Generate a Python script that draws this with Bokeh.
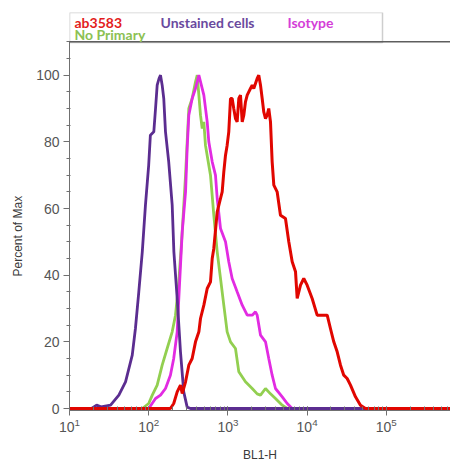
from bokeh.plotting import figure
from bokeh.models import FixedTicker, Label, BoxAnnotation, Span, Range1d, Title
from bokeh.embed import file_html
from bokeh.resources import INLINE

# ---- data (BL1-H intensity, percent of max) ----
unstained_x = [10, 19, 22, 25, 33, 42, 51, 62, 68, 75, 83, 91, 100, 105, 116, 122, 128, 135, 141, 148, 155, 163, 179, 198, 208, 229, 252, 277, 306, 337, 650000]
unstained_y = [0, 0, 1, 0.5, 1, 4, 8, 16, 24, 35, 47, 61, 73, 82, 83, 90, 97, 99, 100, 97, 93, 83, 74, 61, 47, 33, 17, 5, 0.4, 0, 0]

noprimary_x = [10, 83, 100, 111, 128, 148, 171, 198, 218, 240, 265, 292, 321, 354, 390, 410, 451, 474, 497, 521, 603, 664, 733, 807, 888, 979, 1079, 1247, 1374, 1667, 2028, 2344, 2582, 2985, 3451, 3990, 4853, 5610, 650000]
noprimary_y = [0, 0, 1.5, 4, 7, 13, 18, 23, 28, 38, 53, 70, 90, 93, 98, 100, 88, 84, 86, 79, 70, 58, 47, 39, 31, 23, 20, 18, 11, 8, 6, 4.4, 4, 6, 4.4, 3, 1, 0, 0]

isotype_x = [10, 100, 122, 141, 163, 188, 207, 229, 240, 265, 292, 306, 321, 354, 390, 430, 497, 548, 574, 634, 697, 733, 807, 933, 1026, 1132, 1309, 1517, 1754, 2028, 2230, 2344, 2582, 2985, 3281, 3622, 3990, 4853, 5610, 6486, 650000]
isotype_y = [0, 0, 3, 4, 6, 10, 15, 23, 33, 53, 65, 78, 88, 93, 96, 100, 94, 86, 80, 74, 70, 63, 54, 50, 44, 39, 35, 31, 28, 28, 29, 28, 22, 20, 15, 10, 6, 3.5, 1.5, 0, 0]

ab3583_x = [10, 188, 207, 229, 252, 265, 292, 321, 354, 390, 430, 451, 497, 548, 603, 634, 664, 733, 807, 847, 888, 933, 979, 1026, 1079, 1132, 1186, 1247, 1309, 1374, 1442, 1517, 1589, 1667, 1754, 1928, 2028, 2123, 2344, 2455, 2582, 2710, 2838, 2985, 3133, 3281, 3451, 3622, 3802, 4188, 4613, 5334, 5875, 6486, 7145, 7499, 8260, 9078, 10020, 11590, 13400, 16250, 17950, 19720, 21730, 23990, 26420, 29040, 32060, 35320, 40830, 47210, 54580, 650000]
ab3583_y = [0, 0, 1.5, 5, 7, 4.5, 8, 13, 15, 20, 23, 27, 31, 36, 38, 45, 48, 59, 63, 65, 71, 76, 79, 83, 93, 93, 90, 87, 86, 93, 94, 86, 88, 92, 94, 96, 97, 96, 99, 100, 97, 93, 89, 87, 88, 90, 86, 74, 67, 65, 58, 57, 50, 44, 41, 33, 37, 39, 37, 33, 28, 28, 28, 24, 20, 17, 13, 10, 9, 7, 3.5, 1, 0, 0]

y_ticks = [0, 20, 40, 60, 80, 100]
y_minor = [5, 10, 15, 25, 30, 35, 45, 50, 55, 65, 70, 75, 85, 90, 95, 105, 110]

legend_texts = ["ab3583", "Unstained cells", "Isotype", "No Primary"]

C_RED = "#e10600"
C_PURPLE = "#5b2d90"
C_MAGENTA = "#e22be2"
C_GREEN = "#92cf50"

p = figure(width=450, height=464, x_axis_type="log",
           x_range=Range1d(10, 647000), y_range=Range1d(-0.6, 118.8),
           output_backend="svg", toolbar_location=None,
           min_border_left=69, min_border_right=0, min_border_top=12, min_border_bottom=54)
p.grid.visible = False
p.outline_line_color = None
p.background_fill_color = "white"

# curves (draw order: green, magenta, purple, red on top)
p.line(noprimary_x, noprimary_y, line_color=C_GREEN, line_width=2.8)
p.line(isotype_x, isotype_y, line_color=C_MAGENTA, line_width=2.8)
p.line(unstained_x, unstained_y, line_color=C_PURPLE, line_width=2.8)
p.line(ab3583_x, ab3583_y, line_color=C_RED, line_width=3)

axis_col = "#707070"
lab_col = "#555555"
title_col = "#3a3a3a"

# y axis
ya = p.yaxis[0]
ya.ticker = FixedTicker(ticks=y_ticks, minor_ticks=y_minor)
ya.bounds = (0, 110)
ya.axis_line_color = axis_col
ya.major_tick_line_color = axis_col
ya.minor_tick_line_color = axis_col
ya.major_tick_out = 6
ya.major_tick_in = 0
ya.minor_tick_out = 3
ya.minor_tick_in = 1
ya.major_label_standoff = 4
ya.major_label_text_font = "Liberation Sans"
ya.major_label_text_font_size = "14px"
ya.major_label_text_color = lab_col

# x axis
xa = p.xaxis[0]
xa.axis_line_color = axis_col
xa.major_tick_line_color = axis_col
xa.minor_tick_line_color = axis_col
xa.major_tick_out = 5
xa.major_tick_in = 0
xa.minor_tick_out = 0
xa.minor_tick_in = 4
xa.major_label_standoff = 2
xa.major_label_text_font = "Liberation Sans"
xa.major_label_text_font_size = "14px"
xa.major_label_text_color = lab_col
xa.axis_label = "BL1-H"
xa.axis_label_text_font = "Liberation Sans"
xa.axis_label_text_font_size = "12px"
xa.axis_label_text_font_style = "normal"
xa.axis_label_text_color = title_col
xa.axis_label_standoff = 13

# y axis title (as a side title so it can be shifted along the axis)
p.add_layout(Title(text="Percent of Max", align="left", offset=134,
                   text_font="Liberation Sans", text_font_size="12px",
                   text_font_style="normal", text_color=title_col,
                   standoff=17), "left")

# top frame line and legend box
p.add_layout(Span(location=110, dimension="width", line_color="#5e5e5e", line_width=1.5))
p.add_layout(BoxAnnotation(left=0, right=313, bottom=368, top=398,
                           left_units="screen", right_units="screen",
                           bottom_units="screen", top_units="screen",
                           fill_color=None, fill_alpha=0,
                           line_color="#5e5e5e", line_width=1.5))

leg_pos = [(5, 388), (91, 388), (218, 388), (5, 376)]
leg_col = ["#e31c1c", "#6a4a9e", "#d43ed8", "#8cc152"]
for t, (lx, ly), c in zip(legend_texts, leg_pos, leg_col):
    p.add_layout(Label(x=lx, y=ly, x_units="screen", y_units="screen", text=t,
                       text_font="Lato", text_font_style="bold",
                       text_font_size="14px", text_color=c,
                       text_baseline="alphabetic"))

open("out.html", "w").write(file_html(p, INLINE))
